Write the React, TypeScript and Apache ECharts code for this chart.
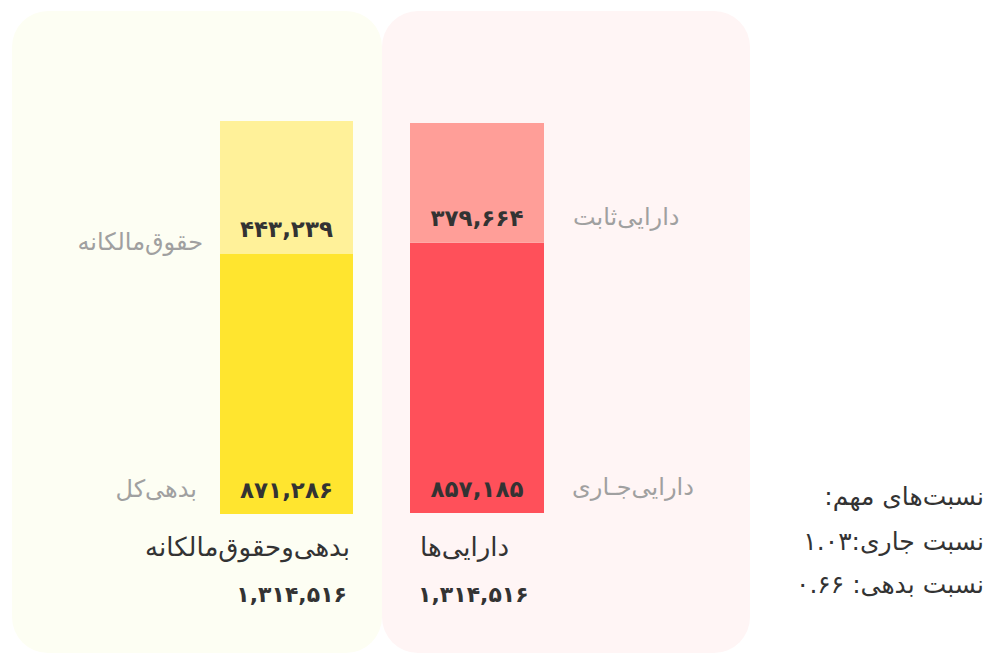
import React, { useEffect, useRef } from "react";
import * as echarts from "echarts";

const categories = ["بدهی‌وحقوق‌مالکانه", "دارایی‌ها"];
const liabilities = [871286];
const equity = [443239];
const currentAssets = [857185];
const fixedAssets = [379664];
const totals = [1314516, 1314516];
const segmentNames = ["بدهی‌کل", "حقوق‌مالکانه", "دارایی‌جـاری", "دارایی‌ثابت"];
const ratioTitle = "نسبت‌های مهم:";
const ratioNames = ["نسبت جاری:", "نسبت بدهی: "];
const ratioValues = ["1.03", "0.66"];

const FONT = "DejaVu Sans";
const RLM = "\u200f";
const fa = (s: string) => s.replace(/\d/g, (d) => "۰۱۲۳۴۵۶۷۸۹"[+d]);
const fmt = (v: number) => fa(v.toLocaleString("en-US"));

export default function App() {
  const ref = useRef<HTMLDivElement>(null);
  useEffect(() => {
    if (!ref.current) return;
    const chart = echarts.init(ref.current, null, { renderer: "svg" });
    const valueLabel = {
      show: true,
      position: "insideBottom" as const,
      distance: 13,
      fontFamily: FONT,
      fontSize: 23,
      fontWeight: "bold" as const,
      color: "#333333",
      formatter: (p: any) => fmt(p.value),
    };
    const gray = { fontFamily: FONT, fontSize: 24, fill: "#a0a0a0" };
    const dark = { fontFamily: FONT, fontSize: 26, fill: "#333333" };
    const ratio = { fontFamily: FONT, fontSize: 25, fill: "#333333" };
    const totalStyle = { fontFamily: FONT, fontSize: 22, fontWeight: "bold", fill: "#333333" };
    chart.setOption({
      animation: false,
      grid: [
        { left: 220, top: 121, width: 133, height: 393 },
        { left: 410, top: 123, width: 134, height: 390 },
      ],
      xAxis: [
        { type: "category", gridIndex: 0, data: [categories[0]], show: false },
        { type: "category", gridIndex: 1, data: [categories[1]], show: false },
      ],
      yAxis: [
        { type: "value", gridIndex: 0, min: 0, max: liabilities[0] + equity[0], show: false },
        { type: "value", gridIndex: 1, min: 0, max: currentAssets[0] + fixedAssets[0], show: false },
      ],
      series: [
        {
          type: "bar", name: segmentNames[0], xAxisIndex: 0, yAxisIndex: 0, stack: "a",
          barWidth: "100%", data: liabilities, itemStyle: { color: "#ffe52f" }, label: valueLabel,
        },
        {
          type: "bar", name: segmentNames[1], xAxisIndex: 0, yAxisIndex: 0, stack: "a",
          barWidth: "100%", data: equity, itemStyle: { color: "#fff199" }, label: valueLabel,
        },
        {
          type: "bar", name: segmentNames[2], xAxisIndex: 1, yAxisIndex: 1, stack: "b",
          barWidth: "100%", data: currentAssets, itemStyle: { color: "#ff505a" }, label: valueLabel,
        },
        {
          type: "bar", name: segmentNames[3], xAxisIndex: 1, yAxisIndex: 1, stack: "b",
          barWidth: "100%", data: fixedAssets, itemStyle: { color: "#ff9e98" }, label: valueLabel,
        },
      ],
      graphic: [
        { type: "rect", z: -10, shape: { x: 12, y: 11, width: 370, height: 642, r: 36 }, style: { fill: "#fdfef3" } },
        { type: "rect", z: -10, shape: { x: 382, y: 11, width: 368, height: 642, r: 36 }, style: { fill: "#fff5f5" } },
        { type: "text", x: 203, y: 242, style: { ...gray, text: segmentNames[1], align: "right", verticalAlign: "middle" } },
        { type: "text", x: 197, y: 489, style: { ...gray, text: segmentNames[0], align: "right", verticalAlign: "middle" } },
        { type: "text", x: 573, y: 217, style: { ...gray, text: segmentNames[3], align: "left", verticalAlign: "middle" } },
        { type: "text", x: 572, y: 487, style: { ...gray, text: segmentNames[2], align: "left", verticalAlign: "middle" } },
        { type: "text", x: 350, y: 547, style: { ...dark, text: categories[0], align: "right", verticalAlign: "middle" } },
        { type: "text", x: 347, y: 594, style: { ...totalStyle, text: fmt(totals[0]), align: "right", verticalAlign: "middle" } },
        { type: "text", x: 420, y: 547, style: { ...dark, text: categories[1], align: "left", verticalAlign: "middle" } },
        { type: "text", x: 418, y: 594, style: { ...totalStyle, text: fmt(totals[1]), align: "left", verticalAlign: "middle" } },
        { type: "text", x: 984, y: 496, style: { ...ratio, text: RLM + ratioTitle + RLM, align: "right", verticalAlign: "middle" } },
        { type: "text", x: 984, y: 541, style: { ...ratio, text: RLM + ratioNames[0] + fa(ratioValues[0]), align: "right", verticalAlign: "middle" } },
        { type: "text", x: 984, y: 584, style: { ...ratio, text: RLM + ratioNames[1] + fa(ratioValues[1]), align: "right", verticalAlign: "middle" } },
      ],
    });
    return () => chart.dispose();
  }, []);
  return (
    <div
      ref={ref}
      style={{ position: "fixed", left: 0, top: 0, width: 989, height: 654, background: "#ffffff" }}
    />
  );
}
